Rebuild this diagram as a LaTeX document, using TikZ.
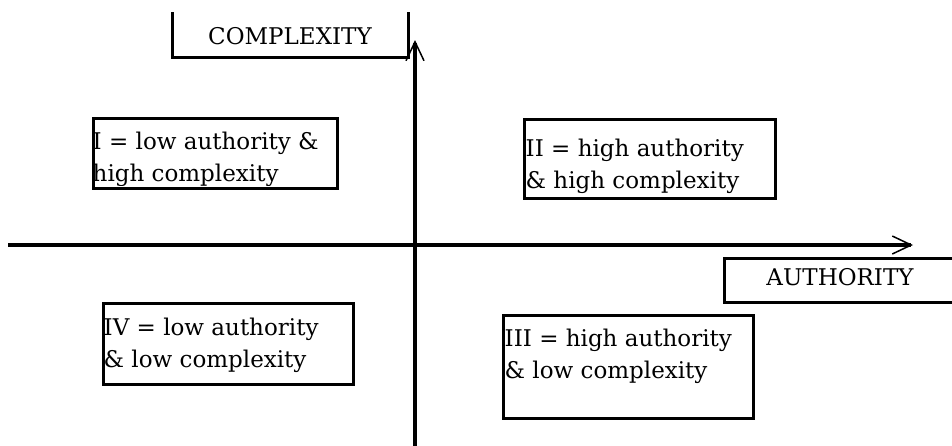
\documentclass[tikz,border=0pt]{standalone}
\usepackage{fontspec}
\setmainfont{DejaVu Serif}
\usetikzlibrary{positioning,arrows.meta}

\begin{document}
\begin{tikzpicture}[
x=1pt, y=-1pt,
quadbox/.style={rectangle, draw=black, line width=3pt, inner sep=0pt},
quadtext/.style={align=left, inner sep=0pt, font=\fontsize{23}{32}\selectfont},
axislabel/.style={inner sep=0pt, font=\fontsize{23}{26}\selectfont},
labelframe/.style={draw=black, line width=3pt},
axis/.style={line width=3.5pt, -{Straight Barb[length=19pt, width=18pt, line width=1.5pt]}}
]
\useasboundingbox (0,0) rectangle (952,445);
\clip (0,0) rectangle (952,445);

%Quadrant boxes
\node[quadbox, minimum width=244pt, minimum height=70pt]  (quad_1) at (215,153) {};
\node[quadbox, minimum width=251pt, minimum height=79pt]  (quad_2) at (649.5,158.5) {};
\node[quadbox, minimum width=250pt, minimum height=103pt] (quad_3) at (628,366.5) {};
\node[quadbox, minimum width=250pt, minimum height=81pt]  (quad_4) at (228,343.5) {};

%Quadrant texts
\begin{scope}
\clip (quad_1.north west) rectangle ([yshift=4pt]quad_1.south east);
\node[quadtext, below right=15pt and 1pt of quad_1.north west]  (quad_1_text) {I = low authority \&\\high complexity};
\end{scope}
\node[quadtext, below right=21pt and 3pt of quad_2.north west] (quad_2_text) {II = high authority\\\& high complexity};
\node[quadtext, below right=15pt and 3pt of quad_3.north west] (quad_3_text) {III = high authority\\\& low complexity};
\node[quadtext, below right=16pt and 2pt of quad_4.north west] (quad_4_text) {IV = low authority\\\& low complexity};

%Axis labels
\node[axislabel] (complexity) at (290,36.5) {COMPLEXITY};
\draw[labelframe] (172,12) -- (172,57) -- (408,57) -- (408,12);
\node[axislabel] (authority) at (840,277.5) {AUTHORITY};
\draw[labelframe] (960,258) -- (724,258) -- (724,302) -- (960,302);

%Axes
\coordinate (x_axis_start) at (8,245);
\coordinate (x_axis_end)   at (913,245);
\coordinate (y_axis_start) at (415,450);
\coordinate (y_axis_end)   at (415,40);

\draw[axis] (x_axis_start) -- (x_axis_end);
\draw[axis] (y_axis_start) -- (y_axis_end);

\end{tikzpicture}
\end{document}
